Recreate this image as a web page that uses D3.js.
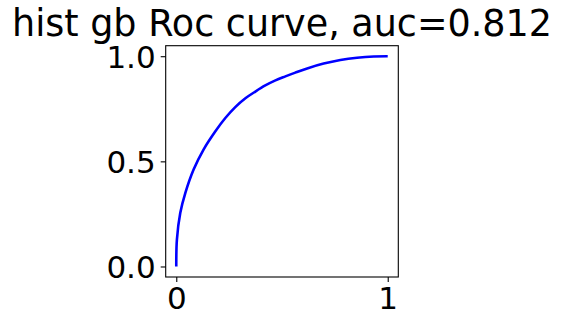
<!DOCTYPE html>
<html>
<head>
<meta charset="utf-8">
<script src="https://cdn.jsdelivr.net/npm/d3@7"></script>
<style>
  body { margin: 0; background: #fff; }
  svg { display: block; }
  .axis text { font-family: "DejaVu Sans", sans-serif; font-size: 31px; fill: #000; }
  .axis line { stroke: #000; stroke-width: 1.1; }
  .axis path { display: none; }
</style>
</head>
<body>
<script>
// ROC curve values
var fpr = [0, 0.003, 0.019, 0.043, 0.082, 0.129, 0.185, 0.232, 0.279, 0.327, 0.374, 0.421, 0.469, 0.516, 0.563, 0.619, 0.697, 0.776, 0.855, 0.934, 1];
var tpr = [0, 0.128, 0.255, 0.35, 0.461, 0.556, 0.643, 0.706, 0.758, 0.80, 0.832, 0.861, 0.885, 0.904, 0.922, 0.942, 0.965, 0.982, 0.993, 0.999, 1];
var xTicks = [0, 1];
var yTicks = [0, 0.5, 1];
var title = "hist gb Roc curve, auc=0.812";

var width = 562, height = 326;
var margin = {left: 165.7, right: 163.7, top: 45.7, bottom: 49};
var w = width - margin.left - margin.right;
var h = height - margin.top - margin.bottom;

var points = fpr.map(function(d, i) { return {x: d, y: tpr[i]}; });

var x = d3.scaleLinear().domain([-0.05, 1.05]).range([0, w]);
var y = d3.scaleLinear().domain([-0.05, 1.05]).range([h, 0]);

var svg = d3.select("body").append("svg").attr("width", width).attr("height", height);

svg.append("text")
    .attr("x", margin.left + w / 2)
    .attr("y", 35.5)
    .attr("text-anchor", "middle")
    .style("font-family", "DejaVu Sans, sans-serif")
    .style("font-size", "36.5px")
    .text(title);

var chartGroup = svg.append("g")
    .attr("transform", "translate(" + margin.left + "," + margin.top + ")");

var line = d3.line()
    .x(function(d) { return x(d.x); })
    .y(function(d) { return y(d.y); })
    .curve(d3.curveCatmullRom.alpha(0.5));

chartGroup.append("path")
    .attr("d", line(points))
    .attr("fill", "none")
    .attr("stroke", "#0000ff")
    .attr("stroke-width", 2.6);

var xAxis = d3.axisBottom(x).tickValues(xTicks).tickFormat(d3.format("d")).tickSize(5).tickPadding(5);
var yAxis = d3.axisLeft(y).tickValues(yTicks).tickFormat(d3.format(".1f")).tickSize(5).tickPadding(5);

chartGroup.append("g").attr("class", "x axis")
    .attr("transform", "translate(0," + h + ")")
    .call(xAxis);
chartGroup.append("g").attr("class", "y axis").call(yAxis);
chartGroup.selectAll(".y.axis text").attr("dy", "0.36em");

chartGroup.append("rect")
    .attr("width", w).attr("height", h)
    .attr("fill", "none")
    .attr("stroke", "#000")
    .attr("stroke-width", 1.1);
</script>
</body>
</html>
